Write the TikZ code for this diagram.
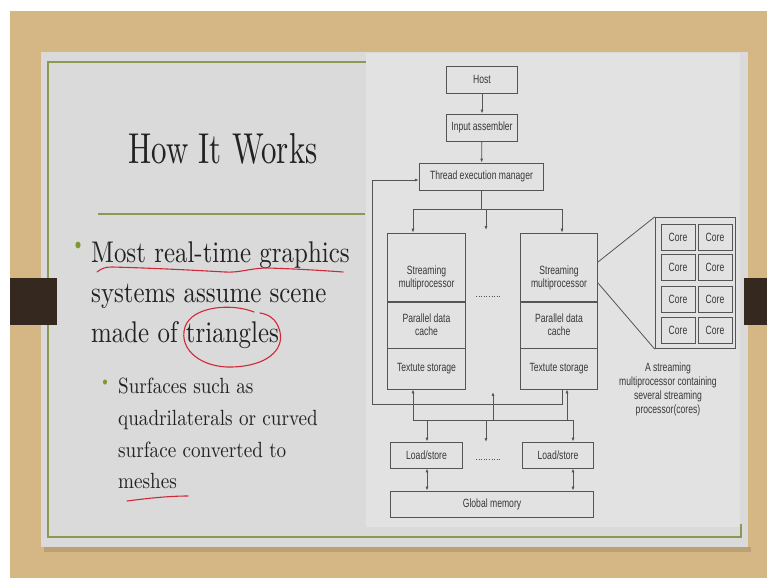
\documentclass[tikz,border=0pt]{standalone}
\usepackage{fontspec}
\usepackage{graphicx}
\usetikzlibrary{arrows.meta}
\newfontfamily\diagfont{Liberation Sans}[FakeStretch=0.72]
\newfontfamily\slidefont{lmroman10-regular}[Extension=.otf]
\definecolor{wood}{HTML}{D5B785}
\definecolor{slidebg}{HTML}{DADADA}
\definecolor{panelbg}{HTML}{E2E2E2}
\definecolor{frameg}{HTML}{8A9A55}
\definecolor{tabc}{HTML}{35291F}
\definecolor{bulletg}{HTML}{7E9A2E}
\definecolor{inkc}{HTML}{222222}
\definecolor{linec}{HTML}{555555}
\definecolor{penred}{HTML}{D0283A}
\newcommand\vsc[2]{\scalebox{1}[#1]{#2}}
\tikzset{
  dbox/.style={draw=linec, line width=0.8pt, fill=panelbg, inner sep=0pt, font=\diagfont\fontsize{12}{13.5}\selectfont, text=inkc!90, align=center},
  dlabel/.style={inner sep=0pt, font=\diagfont\fontsize{12}{13.5}\selectfont, text=inkc!90, align=center},
  conn/.style={draw=linec, line width=0.8pt},
  arr/.style={conn, -{Latex[length=4pt,width=3pt]}},
  darr/.style={conn, {Latex[length=4pt,width=3pt]}-{Latex[length=4pt,width=3pt]}},
  bodyline/.style={anchor=base west, inner sep=0pt, text=inkc, font=\slidefont\fontsize{25}{25}\selectfont},
  subline/.style={anchor=base west, inner sep=0pt, text=inkc, font=\slidefont\fontsize{19.2}{19.2}\selectfont},
  pen/.style={draw=penred, line width=1.1pt, line cap=round}
}
\begin{document}
\begin{tikzpicture}[x=1bp,y=-1bp]
\useasboundingbox (0,0) rectangle (767,578);
% background
\fill[white] (0,0) rectangle (767,578);
\fill[wood] (10,11) rectangle (767,578);
\fill[black, opacity=0.12] (44,547) rectangle (751,552);
% slide
\fill[slidebg] (41,52) rectangle (748,547);
\draw[frameg, line width=1.5pt] (366,62) -- (48,62) -- (48,537) -- (741,537) -- (741,524);
\fill[panelbg] (366,53) rectangle (740,527);
% tabs
\fill[tabc] (10,278) rectangle (57,325);
\fill[tabc] (744,278) rectangle (767,325);
% title
\node[anchor=base, inner sep=0pt, text=inkc, font=\slidefont\fontsize{31}{31}\selectfont] (title) at (223,164) {\vsc{1.4}{How It Works}};
\draw[frameg, line width=1.5pt] (98,214) -- (365,214);
% bullets
\fill[bulletg] (78,245) ellipse [x radius=2.6, y radius=3.4];
\node[bodyline] (l1) at (91,262) {\vsc{1.2}{Most real-time graphics}};
\node[bodyline] (l2) at (91,302) {\vsc{1.2}{systems assume scene}};
\node[bodyline] (l3) at (91,342) {\vsc{1.2}{made of triangles}};
\fill[bulletg] (105,382) ellipse [x radius=2, y radius=2.6];
\node[subline] (s1) at (118,393) {\vsc{1.15}{Surfaces such as}};
\node[subline] (s2) at (118,425) {\vsc{1.15}{quadrilaterals or curved}};
\node[subline] (s3) at (118,457) {\vsc{1.15}{surface converted to}};
\node[subline] (s4) at (118,488) {\vsc{1.15}{meshes}};
% red pen annotations
\draw[pen] (97,272) .. controls (102,268) and (106,267) .. (112,267) .. controls (150,268) and (190,270) .. (225,272) .. controls (240,273) and (250,268) .. (268,268) .. controls (300,269) and (330,271) .. (343,272);
\draw[pen] (254,312) .. controls (232,303) and (192,306) .. (185,327) .. controls (178,350) and (202,368) .. (232,367) .. controls (267,366) and (284,350) .. (280,332) .. controls (277,318) and (267,314) .. (260,313);
\draw[pen] (127,501) .. controls (150,498) and (170,496) .. (188,496);
% diagram
\node[dbox, minimum width=72, minimum height=27] (host) at (482,79.5) {Host};
\node[dbox, minimum width=72, minimum height=27] (inp) at (482,127.5) {Input assembler};
\node[dbox, minimum width=125, minimum height=27] (tem) at (481.5,176.5) {Thread execution manager};
\node[dbox, minimum width=79, minimum height=69] (sm1) at (426.5,267.5) {};
\node[dlabel] (sm1t) at (426.5,278) {Streaming\\multiprocessor};
\node[dbox, minimum width=79, minimum height=46] (pd1) at (426.5,325) {Parallel data\\cache};
\node[dbox, minimum width=79, minimum height=41] (tx1) at (426.5,368.5) {Textute storage};
\node[dbox, minimum width=78, minimum height=69] (sm2) at (559,267.5) {};
\node[dlabel] (sm2t) at (559,278) {Streaming\\multiprocessor};
\node[dbox, minimum width=78, minimum height=46] (pd2) at (559,325) {Parallel data\\cache};
\node[dbox, minimum width=78, minimum height=41] (tx2) at (559,368.5) {Textute storage};
\node[dbox, minimum width=73, minimum height=26] (ls1) at (426.5,455) {Load/store};
\node[dbox, minimum width=72, minimum height=26] (ls2) at (558,455) {Load/store};
\node[dbox, minimum width=204, minimum height=26] (gm) at (492,504) {Global memory};
% cores
\node[dbox, minimum width=81, minimum height=132] (cp) at (695.5,283) {};
\foreach \r/\yy in {1/237,2/267.5,3/299,4/330}{
  \node[dbox, minimum width=34, minimum height=26] (ca\r) at (678,\yy) {Core};
  \node[dbox, minimum width=34, minimum height=26] (cb\r) at (715,\yy) {Core};
}
\node[dlabel, font=\diagfont\fontsize{12}{14.3}\selectfont] (cap) at (668,389.5) {A streaming\\multiprocessor containing\\several streaming\\processor(cores)};
% zoom lines
\coordinate (z1) at (598,262);
\coordinate (z2) at (598,283);
\draw[conn] (z1) -- (cp.north west);
\draw[conn] (z2) -- (cp.south west);
% top connectors
\draw[arr] (host) -- (inp);
\draw[arr] (inp) -- (tem);
\coordinate (bl) at (413,209);
\coordinate (bm) at (486,209);
\coordinate (br) at (562,209);
\coordinate (bme) at (486,230);
\draw[conn] (tem.south) -- (tem.south |- bl);
\draw[conn] (bl) -- (br);
\draw[arr] (bl) -- (bl |- sm1.north);
\draw[arr] (bm) -- (bme);
\draw[arr] (br) -- (br |- sm2.north);
% feedback
\coordinate (f0) at (562,389);
\coordinate (f1) at (562,404);
\coordinate (f2) at (372,404);
\coordinate (f3) at (372,180);
\draw[arr] (f0) -- (f1) -- (f2) -- (f3) -- (tem.west |- f3);
% bottom bus
\coordinate (ub1) at (413,420);
\coordinate (ub2) at (493,420);
\coordinate (ub2e) at (493,392);
\coordinate (ub3) at (567,420);
\coordinate (db1) at (427,420);
\coordinate (db2) at (486,420);
\coordinate (db2e) at (486,442);
\coordinate (db3) at (573,420);
\draw[conn] (ub1) -- (db3);
\draw[arr] (ub1) -- (ub1 |- tx1.south);
\draw[arr] (ub2) -- (ub2e);
\draw[arr] (ub3) -- (ub3 |- tx2.south);
\draw[arr] (db1) -- (db1 |- ls1.north);
\draw[arr] (db2) -- (db2e);
\draw[arr] (db3) -- (db3 |- ls2.north);
\draw[darr] (db1 |- ls1.south) -- (db1 |- gm.north);
\draw[darr] (db3 |- ls2.south) -- (db3 |- gm.north);
% dotted separators
\coordinate (d1a) at (476,296);
\coordinate (d1b) at (500,296);
\coordinate (d2a) at (476,459);
\coordinate (d2b) at (500,459);
\draw[linec, dotted, line width=0.6pt] (d1a) -- (d1b);
\draw[linec, dotted, line width=0.6pt] (d2a) -- (d2b);
\end{tikzpicture}
\end{document}
